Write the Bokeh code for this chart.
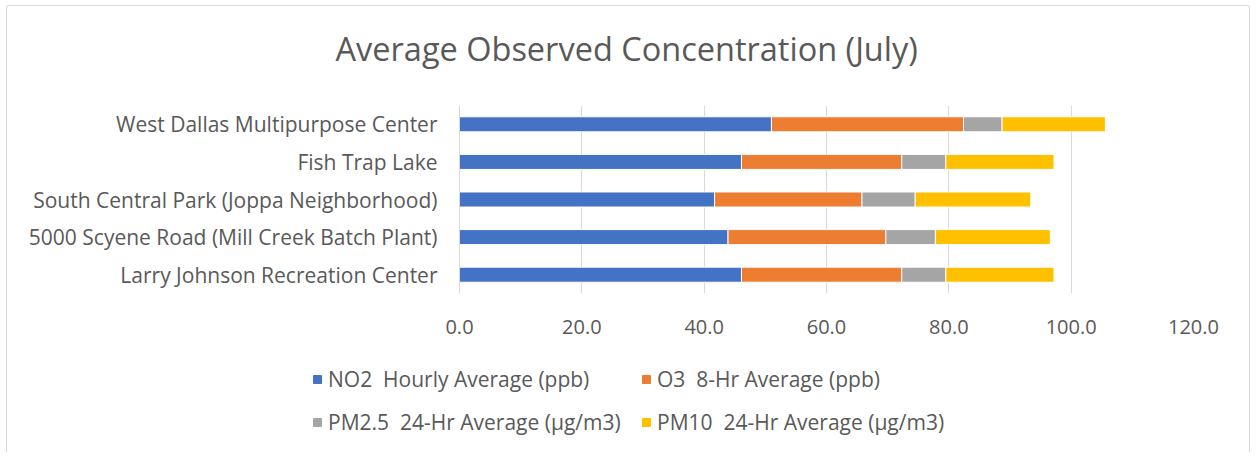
from bokeh.plotting import figure
from bokeh.layouts import column
from bokeh.models import (ColumnDataSource, Range1d, FactorRange, FixedTicker,
                          NumeralTickFormatter, Legend, LegendItem, Title)
from bokeh.embed import file_html
from bokeh.resources import INLINE

# ---- data ----
sites = [
    "Larry Johnson Recreation Center",
    "5000 Scyene Road (Mill Creek Batch Plant)",
    "South Central Park (Joppa Neighborhood)",
    "Fish Trap Lake",
    "West Dallas Multipurpose Center",
]
no2 = [46.1, 43.9, 41.7, 46.1, 51.0]
o3 = [26.2, 25.8, 24.1, 26.2, 31.4]
pm25 = [7.2, 8.1, 8.7, 7.2, 6.3]
pm10 = [17.7, 18.8, 18.9, 17.7, 16.9]
series_names = ["no2", "o3", "pm25", "pm10"]
series_labels = [
    "NO2  Hourly Average (ppb)",
    "O3  8-Hr Average (ppb)",
    "PM2.5  24-Hr Average (\u00b5g/m3)",
    "PM10  24-Hr Average (\u00b5g/m3)",
]
x_ticks = [0, 20, 40, 60, 80, 100, 120]
chart_title = "Average Observed Concentration (July)"

colors = ["#4472C4", "#ED7D31", "#A5A5A5", "#FFC000"]
TXT = "#595959"
FONT = "Open Sans"

source = ColumnDataSource(dict(site=sites, no2=no2, o3=o3, pm25=pm25, pm10=pm10))

# ---- title strip ----
tf = figure(width=1242, height=72, output_backend="svg", toolbar_location=None,
            x_range=Range1d(0, 1), y_range=Range1d(0, 1),
            min_border_left=0, min_border_right=0, min_border_top=70,
            min_border_bottom=0, title=None)
tf.frame_align = False
tf.axis.visible = False
tf.grid.visible = False
tf.outline_line_color = None
tf.add_layout(Title(text=chart_title, text_font=FONT, text_font_size="32.5px",
                    text_font_style="normal", text_color=TXT, align="left",
                    offset=328, standoff=12), "above")

# ---- main chart ----
p = figure(width=1242, height=267, output_backend="svg", toolbar_location=None,
           y_range=FactorRange(*sites), x_range=Range1d(0, 120),
           min_border_left=452, min_border_right=56, min_border_top=27,
           min_border_bottom=52, title=None)

renderers = p.hbar_stack(series_names, y="site", height=0.4, color=colors,
                         line_color="white", line_width=1, source=source)

p.outline_line_color = None
p.background_fill_color = "white"
p.border_fill_color = "white"

p.ygrid.grid_line_color = None
p.xgrid.grid_line_color = "#D9D9D9"
p.xgrid.grid_line_width = 1

p.xaxis.ticker = FixedTicker(ticks=x_ticks)
p.xaxis.formatter = NumeralTickFormatter(format="0.0")
p.xaxis.axis_line_color = None
p.xaxis.major_tick_line_color = None
p.xaxis.minor_tick_line_color = None
p.xaxis.major_label_text_font = FONT
p.xaxis.major_label_text_font_size = "20px"
p.xaxis.major_label_text_color = TXT
p.xaxis.major_label_standoff = 20

p.yaxis.axis_line_color = "#D9D9D9"
p.yaxis.major_tick_line_color = None
p.yaxis.minor_tick_line_color = None
p.yaxis.major_tick_out = 0
p.yaxis.major_label_text_font = FONT
p.yaxis.major_label_text_font_size = "21px"
p.yaxis.major_label_text_color = TXT
p.yaxis.major_label_standoff = 22

# ---- legend strip (separate figure so nothing gets clipped) ----
lg = figure(width=1242, height=107, output_backend="svg", toolbar_location=None,
            x_range=Range1d(-2, -1), y_range=FactorRange(*sites),
            min_border_left=0, min_border_right=0, min_border_top=0,
            min_border_bottom=0, title=None)
lg.frame_align = False
lg.axis.visible = False
lg.grid.visible = False
lg.outline_line_color = None
lg.background_fill_color = "white"
# same data, drawn outside the visible range: only used for legend swatches
leg_renderers = lg.hbar_stack(series_names, y="site", height=0.4, color=colors,
                              source=source)

items = [LegendItem(label=lab, renderers=[r]) for lab, r in zip(series_labels, leg_renderers)]
legend = Legend(items=items, orientation="horizontal", ncols=2,
                location=(305, 16), padding=0, margin=0, spacing=15,
                glyph_width=10, glyph_height=10, label_height=25,
                label_width=298, label_standoff=6, border_line_color=None,
                background_fill_alpha=0,
                label_text_font=FONT, label_text_font_size="21px",
                label_text_color=TXT)
lg.add_layout(legend, "center")

layout = column(tf, p, lg, spacing=0,
                styles={"margin-left": "6px", "margin-top": "5px",
                        "border-left": "1px solid #D9D9D9",
                        "border-top": "1px solid #D9D9D9",
                        "border-right": "1px solid #D9D9D9",
                        "border-radius": "3px 3px 0 0"})
open("out.html", "w").write(file_html(layout, INLINE))
